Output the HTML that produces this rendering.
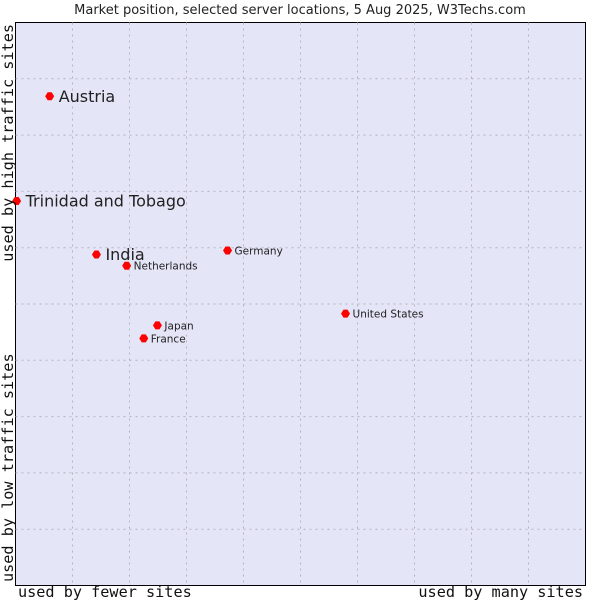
<!DOCTYPE html>
<html><head><meta charset="utf-8"><style>
html,body{margin:0;padding:0;background:#fff;width:600px;height:600px;overflow:hidden}
svg text{font-family:"DejaVu Sans","Liberation Sans",sans-serif;fill:#222}
.mono{font-family:"DejaVu Sans Mono","Liberation Mono",monospace;font-size:15.2px;fill:#111}
</style></head><body>
<svg id="chart" width="600" height="600" xmlns="http://www.w3.org/2000/svg">
<text x="300" y="14" text-anchor="middle" font-size="13">Market position, selected server locations, 5 Aug 2025, W3Techs.com</text>
<rect x="15.5" y="22.5" width="570" height="563" fill="#e4e5f7" stroke="#000" stroke-width="1"/>
<g id="grid"></g>
<g id="points"></g>
<text class="mono" x="18" y="597">used by fewer sites</text>
<text class="mono" x="583" y="597" text-anchor="end">used by many sites</text>
<text class="mono" transform="translate(13,24) rotate(-90)" text-anchor="end">used by high traffic sites</text>
<text class="mono" transform="translate(13,582) rotate(-90)">used by low traffic sites</text>
</svg>
<script>
const countries=["Austria","Trinidad and Tobago","India","Netherlands","Germany","United States","Japan","France"];
const xValues=[6.0,0.2,14.2,19.5,37.2,57.9,24.9,22.5];
const yValues=[86.9,68.3,58.8,56.8,59.5,48.3,46.2,43.9];
const bigLabel=[true,true,true,false,false,false,false,false];
const L=15.5,R=585.5,T=22.5,B=585.5;
const sx=v=>L+v/100*(R-L);
const sy=v=>B-v/100*(B-T);
const NS="http://www.w3.org/2000/svg";
const grid=document.getElementById('grid');
for(let i=1;i<10;i++){
  const v=document.createElementNS(NS,'line');
  
  
  v.setAttribute('x1',sx(i*10));v.setAttribute('x2',sx(i*10));v.setAttribute('y1',T);v.setAttribute('y2',B);
  v.setAttribute('stroke','#b4b4bc');v.setAttribute('stroke-dasharray','2,4');
  grid.appendChild(v);
  const h=document.createElementNS(NS,'line');
  
  
  h.setAttribute('y1',sy(i*10));h.setAttribute('y2',sy(i*10));h.setAttribute('x1',L);h.setAttribute('x2',R);
  h.setAttribute('stroke','#b4b4bc');h.setAttribute('stroke-dasharray','2,4');
  grid.appendChild(h);
}
const pts=document.getElementById('points');
countries.forEach((c,i)=>{
  const x=sx(xValues[i]),y=sy(yValues[i]);
  const d=document.createElementNS(NS,'path');
  
  
  d.setAttribute('d',`M${x-4.5},${y}L${x-2},${y-4}L${x+2},${y-4}L${x+4.5},${y}L${x+2},${y+4}L${x-2},${y+4}Z`);
  d.setAttribute('fill','#f00');
  pts.appendChild(d);
  const t=document.createElementNS(NS,'text');
  
  
  const big=bigLabel[i];
  t.setAttribute('x',x+(big?9:7));
  t.setAttribute('y',y+(big?5.5:4));
  t.setAttribute('font-size',big?'16':'10.5');
  t.textContent=c;
  pts.appendChild(t);
});
</script>
</body></html>
